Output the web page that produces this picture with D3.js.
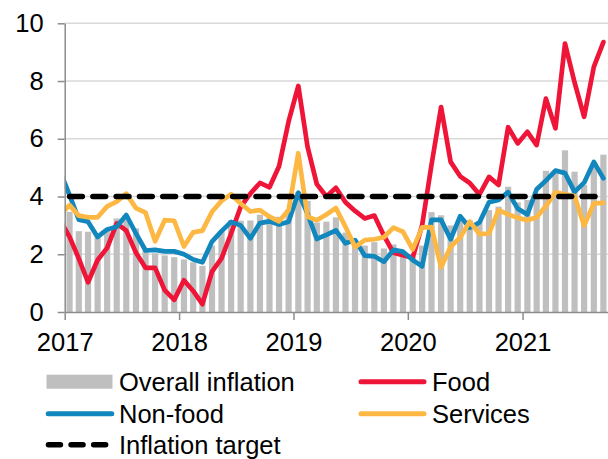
<!DOCTYPE html>
<html><head><meta charset="utf-8">
<script src="https://cdn.jsdelivr.net/npm/d3@7/dist/d3.min.js"></script>
<style>
html,body{margin:0;padding:0;background:#fff;}
svg{display:block;font-family:"Liberation Sans",Arial,sans-serif;}
</style></head><body>
<svg id="chart" width="608" height="459"></svg>
<script>
// Monthly categories: Dec 2016 (partly visible, clipped at the axis) .. Sep 2021
const months = d3.timeMonth.range(new Date(2016, 11, 1), new Date(2021, 9, 1));

// Series values (% y/y), one per month above
const overall = [null, 3.47, 2.8, 2.78, 2.6, 2.85, 3.24, 3.2, 2.9, 2.15, 2.03, 1.96, 1.9,
  1.82, 1.72, 1.6, 2.3, 2.8, 3.18, 3.16, 3.17, 3.37, 3.26, 3.3, 3.55,
  4.16, 3.85, 3.1, 3.13, 3.28, 2.75, 2.4, 2.3, 2.42, 2.2, 2.34, 1.95,
  1.9, 2.3, 3.46, 3.35, 3.0, 3.2, 3.18, 3.15, 3.53, 3.65, 4.34, 3.8,
  3.88, 4.05, 4.89, 4.89, 5.6, 4.86, 4.4, 5.1, 5.45];
const food = [3.2, 2.6, 1.85, 1.03, 1.8, 2.22, 3.07, 2.82, 2.05, 1.53, 1.53, 0.76, 0.42,
  1.1, 0.73, 0.27, 1.4, 1.86, 2.72, 3.64, 4.1, 4.47, 4.32, 5.05, 6.6,
  7.83, 5.72, 4.43, 4.0, 4.3, 3.8, 3.5, 3.24, 3.34, 2.65, 2.05, 1.97,
  1.88, 3.0, 5.1, 7.1, 5.2, 4.7, 4.47, 4.07, 4.68, 4.4, 6.4, 5.84,
  6.24, 5.78, 7.39, 6.36, 9.3, 7.95, 6.76, 8.49, 9.35];
const nonFood = [4.9, 4.05, 3.2, 3.13, 2.6, 2.86, 2.95, 3.36, 2.72, 2.13, 2.15, 2.1, 2.1,
  2.0, 1.82, 1.72, 2.44, 2.8, 3.12, 3.0, 2.55, 3.08, 3.14, 3.03, 3.13,
  4.13, 3.4, 2.53, 2.67, 2.83, 2.38, 2.49, 1.95, 1.93, 1.74, 2.15, 2.09,
  1.8, 1.58, 3.19, 3.19, 2.52, 3.32, 2.92, 3.1, 3.8, 3.88, 4.15, 3.58,
  3.38, 4.25, 4.55, 4.9, 4.81, 4.16, 4.48, 5.2, 4.63];
const services = [3.36, 3.7, 3.34, 3.28, 3.28, 3.66, 3.82, 4.1, 3.6, 3.44, 2.45, 3.18, 3.16,
  2.27, 2.76, 2.82, 3.47, 3.85, 4.08, 3.76, 3.48, 3.53, 3.3, 3.14, 3.53,
  5.5, 3.3, 3.18, 3.38, 3.6, 2.95, 2.25, 2.49, 2.52, 2.59, 2.92, 2.78,
  2.17, 2.93, 2.94, 1.55, 2.26, 2.58, 3.13, 2.7, 2.72, 3.53, 3.38, 3.26,
  3.18, 3.28, 3.67, 4.15, 4.08, 4.02, 2.99, 3.76, 3.78];
const inflationTarget = 4;

const yTicks = [0, 2, 4, 6, 8, 10];
const xTickYears = [2017, 2018, 2019, 2020, 2021];

const colors = {overall: "#BFBFBF", food: "#EE1539", nonFood: "#1187BD", services: "#FDB844", target: "#000000"};

const svg = d3.select("#chart");
const pLeft = 64.7, pRight = 608.1, pTop = 23.3, pBottom = 312;
const x = d3.scaleTime().domain([new Date(2017, 0, 1), new Date(2021, 9, 1)]).range([pLeft, pRight]);
const y = d3.scaleLinear().domain([0, 10]).range([pBottom, pTop]);
const FS = 25.5;

const mid = d => { const n = d3.timeMonth.offset(d, 1); return (x(d) + x(n)) / 2; };

svg.append("defs").append("clipPath").attr("id", "clip")
  .append("rect").attr("x", pLeft).attr("y", 0).attr("width", pRight - pLeft).attr("height", pBottom + 2);

// gridlines
svg.append("g").selectAll("line").data(yTicks.filter(t => t > 0)).join("line")
  .attr("x1", pLeft).attr("x2", pRight).attr("y1", d => y(d)).attr("y2", d => y(d))
  .attr("stroke", "#D9D9D9").attr("stroke-width", 1.5);

// bars
const plot = svg.append("g").attr("clip-path", "url(#clip)");
const barW = 6.2;
plot.append("g").selectAll("rect")
  .data(months.map((m, i) => ({m, v: overall[i]})).filter(d => d.v != null))
  .join("rect")
  .attr("x", d => mid(d.m) - barW / 2).attr("width", barW)
  .attr("y", d => y(d.v)).attr("height", d => y(0) - y(d.v))
  .attr("fill", colors.overall);

// axes
const yAxis = svg.append("g").attr("transform", `translate(${pLeft},0)`)
  .call(d3.axisLeft(y).tickValues(yTicks).tickSize(7).tickSizeOuter(0).tickPadding(14));
const xAxis = svg.append("g").attr("transform", `translate(0,${pBottom})`)
  .call(d3.axisBottom(x).tickValues(xTickYears.map(yr => new Date(yr, 0, 1)))
    .tickFormat(d3.timeFormat("%Y")).tickSize(8).tickSizeOuter(0).tickPadding(13));
[yAxis, xAxis].forEach(a => {
  a.select(".domain").attr("stroke", "#8C8C8C").attr("stroke-width", 1.5);
  a.selectAll(".tick line").attr("stroke", "#8C8C8C").attr("stroke-width", 1.5);
  a.selectAll(".tick text").attr("font-size", FS).attr("fill", "#000")
    .attr("font-family", '"Liberation Sans",Arial,sans-serif');
});

// lines
const line = d3.line().defined(d => d.v != null).x(d => mid(d.m)).y(d => y(d.v));
[["food", food], ["nonFood", nonFood], ["services", services]].forEach(([k, arr]) => {
  plot.append("path").datum(months.map((m, i) => ({m, v: arr[i]})))
    .attr("d", line).attr("fill", "none").attr("stroke", colors[k])
    .attr("stroke-width", 4.7).attr("stroke-linejoin", "round").attr("stroke-linecap", "round");
});

// inflation target
const tMonths = months.slice(1);
svg.append("line")
  .attr("x1", mid(tMonths[0])).attr("x2", mid(tMonths[tMonths.length - 1]))
  .attr("y1", y(inflationTarget)).attr("y2", y(inflationTarget))
  .attr("stroke", colors.target).attr("stroke-width", 5.5)
  .attr("stroke-dasharray", "12.8,10.5").attr("stroke-linecap", "round");

// legend
const lg = svg.append("g").attr("font-size", FS);
const rows = [381.7, 413.8, 444.8];
lg.append("rect").attr("x", 46.5).attr("y", rows[0] - 7).attr("width", 66).attr("height", 14).attr("fill", colors.overall);
const swatch = (x1, x2, yy, c, dash) => {
  const l = lg.append("line").attr("x1", x1).attr("x2", x2).attr("y1", yy).attr("y2", yy)
    .attr("stroke", c).attr("stroke-width", dash ? 5.5 : 5).attr("stroke-linecap", "round");
  if (dash) l.attr("stroke-dasharray", dash);
};
swatch(361, 424, rows[0], colors.food);
swatch(48.2, 111.8, rows[1], colors.nonFood);
swatch(361, 424, rows[1], colors.services);
swatch(48.45, 105.8, rows[2], colors.target, "12,10.6");
const texts = [["Overall inflation", 119, rows[0]], ["Food", 432, rows[0]],
  ["Non-food", 119, rows[1]], ["Services", 432, rows[1]], ["Inflation target", 119, rows[2]]];
lg.selectAll("text").data(texts).join("text")
  .attr("x", d => d[1]).attr("y", d => d[2]).attr("dy", "0.35em")
  .attr("fill", "#000").text(d => d[0]);
</script>
</body></html>
